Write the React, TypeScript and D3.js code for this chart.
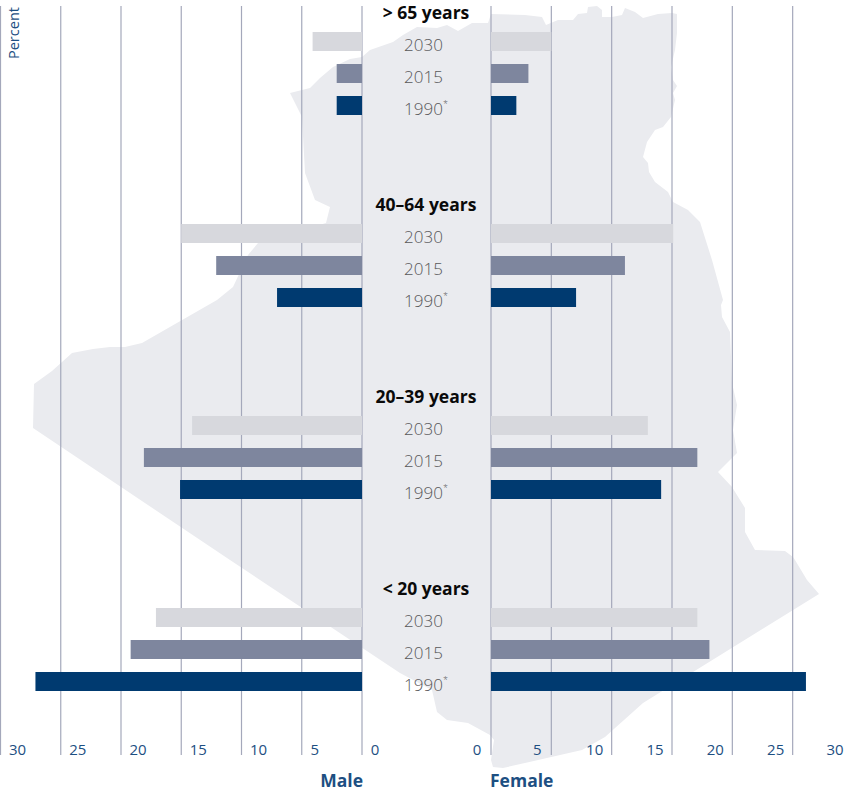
import React from "react";
import * as d3 from "d3";

const WIDTH = 849;
const HEIGHT = 792;

const ageGroups = ["> 65 years", "40–64 years", "20–39 years", "< 20 years"];
const years = ["2030", "2015", "1990"];
const male2030 = [4.1, 15, 14.1, 17.1];
const male2015 = [2.1, 12.1, 18.1, 19.2];
const male1990 = [2.1, 7.05, 15.1, 27.1];
const female2030 = [5, 15.1, 13, 17.1];
const female2015 = [3.1, 11.1, 17.1, 18.1];
const female1990 = [2.1, 7.05, 14.1, 26.1];
const ticks = [0, 5, 10, 15, 20, 25, 30];
const yearColors = ["#d7d8dd", "#7e869e", "#003a70"];

const mapOutline: [number, number][] = [
  [290, 93], [310, 88], [320, 78], [333, 67], [350, 59], [362, 57], [370, 50], [393, 42], [403, 35], [417, 27],
  [437, 28], [447, 25], [458, 31], [472, 23], [488, 23], [491, 14], [525, 15], [542, 17], [546, 25], [558, 20],
  [573, 20], [578, 14], [587, 13], [588, 7], [597, 6], [602, 10], [602, 17], [612, 17], [622, 15], [625, 8],
  [635, 12], [643, 18], [658, 14], [672, 13], [677, 14], [677, 33], [675, 50], [671, 67], [673, 80], [677, 86],
  [673, 93], [675, 100], [671, 117], [663, 127], [655, 130], [647, 142], [643, 157], [648, 163], [649, 172],
  [655, 182], [668, 192], [673, 202], [688, 210], [700, 222], [712, 260], [723, 300], [721, 305], [722, 317],
  [730, 332], [732, 383], [737, 405], [733, 430], [737, 453], [718, 472], [732, 487], [745, 508], [745, 532],
  [755, 550], [785, 551], [793, 557], [795, 560], [807, 580], [819, 594], [643, 703], [605, 737], [582, 750],
  [503, 768], [493, 767], [491, 760], [494, 740], [490, 735], [468, 723], [447, 720], [437, 712], [432, 690],
  [400, 673], [230, 560], [33, 428], [34, 384], [52, 371], [72, 353], [93, 349], [110, 347], [125, 347],
  [142, 343], [217, 300], [233, 287], [248, 255], [258, 243], [326, 223], [330, 207], [315, 200], [305, 173], [302, 117],
];

export default function App() {
  const xMale = d3.scaleLinear().domain([0, 30]).range([362, 0.5]);
  const xFemale = d3.scaleLinear().domain([0, 30]).range([491, 853]);
  const groupY = d3.scalePoint<string>().domain(ageGroups).range([32, 608]);
  const yearY = d3.scalePoint<string>().domain(years).range([0, 64]);
  const mapPath = d3.line().curve(d3.curveLinearClosed)(mapOutline) ?? "";
  const maleSeries = [male2030, male2015, male1990];
  const femaleSeries = [female2030, female2015, female1990];
  const sans = "'Open Sans', sans-serif";
  const blue = "#1d4f82";

  return (
    <svg width={WIDTH} height={HEIGHT} style={{ position: "absolute", left: 0, top: 0 }} fontFamily={sans}>
      <path d={mapPath} fill="#eaebef" />
      {ticks.map((t) => (
        <g key={t} stroke="#a4a8bb" strokeWidth={1.2}>
          <line x1={xMale(t)} x2={xMale(t)} y1={6} y2={755} />
          <line x1={xFemale(t)} x2={xFemale(t)} y1={6} y2={755} />
        </g>
      ))}
      {ageGroups.map((g, gi) => (
        <g key={g}>
          <text x={426} y={(groupY(g) ?? 0) - 13} textAnchor="middle" fontSize={17.5} fontWeight={700} fill="#0a0a0a">{g}</text>
          {years.map((yr, yi) => {
            const y = (groupY(g) ?? 0) + (yearY(yr) ?? 0);
            const m = maleSeries[yi][gi];
            const f = femaleSeries[yi][gi];
            return (
              <g key={yr}>
                <rect x={xMale(m)} y={y} width={xMale(0) - xMale(m)} height={19} fill={yearColors[yi]} />
                <rect x={xFemale(0)} y={y} width={xFemale(f) - xFemale(0)} height={19} fill={yearColors[yi]} />
                <text x={yr === "1990" ? 426 : 423.5} y={y + 19} textAnchor="middle" fontSize={17} fontWeight={300} fill="#58585a">
                  {yr}
                  {yr === "1990" && <tspan fontSize={9} dy={-8}>*</tspan>}
                </text>
              </g>
            );
          })}
        </g>
      ))}
      {ticks.map((t) => (
        <g key={t} fontSize={15} fill={blue}>
          <text x={xMale(t) + (t < 10 ? 13 : 17)} y={755} textAnchor="middle">{t}</text>
          <text x={xFemale(t) - (t < 10 ? 14 : t === 30 ? 18 : 17)} y={755} textAnchor="middle">{t}</text>
        </g>
      ))}
      <text x={363} y={787} textAnchor="end" fontSize={17.5} fontWeight={700} fill={blue}>Male</text>
      <text x={490} y={787} fontSize={17.5} fontWeight={700} fill={blue}>Female</text>
      <text transform="translate(19,59) rotate(-90)" fontSize={14.5} fontWeight={400} fill={blue}>Percent</text>
    </svg>
  );
}
